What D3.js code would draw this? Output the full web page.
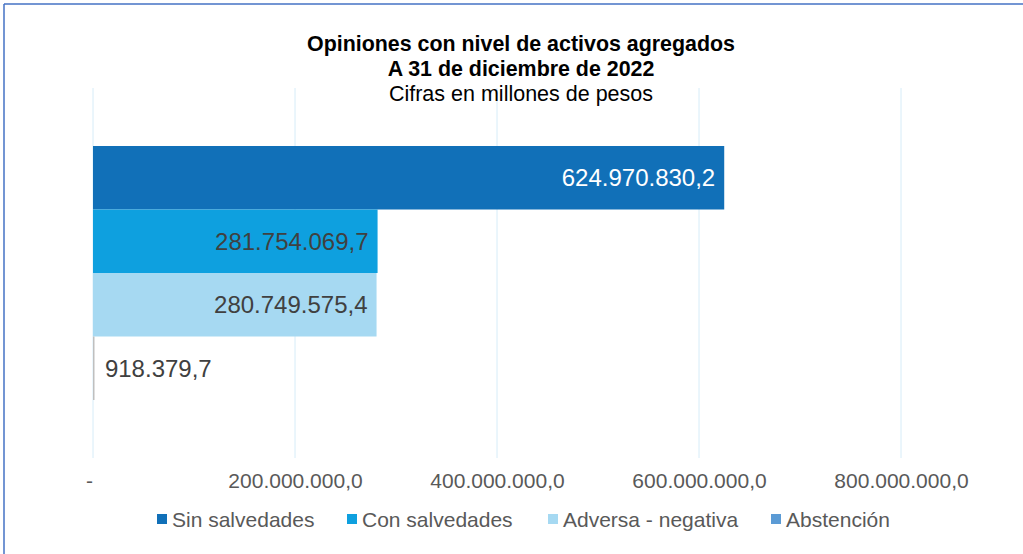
<!DOCTYPE html>
<html>
<head>
<meta charset="utf-8">
<script src="https://cdn.jsdelivr.net/npm/d3@7"></script>
<style>
body { margin: 0; background: #fff; }
svg { font-family: "Liberation Sans", Arial, sans-serif; }
</style>
</head>
<body>
<svg width="1023" height="554"></svg>
<script>
var series = ["Sin salvedades", "Con salvedades", "Adversa - negativa", "Abstención"];
var values = [624970830.2, 281754069.7, 280749575.4, 918379.7];
var labels = ["624.970.830,2", "281.754.069,7", "280.749.575,4", "918.379,7"];
var colors = ["#1170b8", "#0ea0df", "#a6d9f2", "#5b9bd5"];
var tickValues = [0, 200000000, 400000000, 600000000, 800000000];
var tickLabels = ["-", "200.000.000,0", "400.000.000,0", "600.000.000,0", "800.000.000,0"];

var svg = d3.select("svg");

// frame
svg.append("line").attr("x1", 4).attr("y1", 4).attr("x2", 1023).attr("y2", 4)
	.attr("stroke", "#4472c4").attr("stroke-width", 1.5);
svg.append("line").attr("x1", 4).attr("y1", 4).attr("x2", 4).attr("y2", 554)
	.attr("stroke", "#4472c4").attr("stroke-width", 1.5);

var x = d3.scaleLinear().domain([0, 800000000]).range([93, 901]);
var y = d3.scaleBand().domain(series).range([146, 400]);

// gridlines
svg.append("g").selectAll("line")
	.data(tickValues)
	.enter().append("line")
		.attr("x1", function(d) { return x(d); })
		.attr("x2", function(d) { return x(d); })
		.attr("y1", 88).attr("y2", 458)
		.attr("stroke", "#d6ecf8").attr("stroke-width", 1);

// bars
svg.append("g").selectAll("rect")
	.data(values)
	.enter().append("rect")
		.attr("x", x(0))
		.attr("y", function(d, i) { return y(series[i]); })
		.attr("width", function(d) { return Math.max(1.5, x(d) - x(0)); })
		.attr("height", y.bandwidth())
		.attr("fill", function(d, i) { return i == 3 ? "#bfbfbf" : colors[i]; });

// data labels
svg.append("g").selectAll("text")
	.data(values)
	.enter().append("text")
		.attr("x", function(d, i) { return i == 3 ? x(d) + 11 : x(d) - 9; })
		.attr("y", function(d, i) { return y(series[i]) + y.bandwidth() / 2; })
		.attr("dy", "0.36em")
		.attr("text-anchor", function(d, i) { return i == 3 ? "start" : "end"; })
		.attr("font-size", 24)
		.attr("fill", function(d, i) { return i == 0 ? "#fff" : "#404040"; })
		.text(function(d, i) { return labels[i]; });

// x axis labels
var axis = d3.axisBottom(x).tickValues(tickValues)
	.tickFormat(function(d, i) { return tickLabels[i]; })
	.tickSize(0).tickPadding(0);
var ax = svg.append("g").attr("transform", "translate(0,480)").call(axis);
ax.select(".domain").remove();
ax.selectAll("text").attr("font-size", 21).attr("fill", "#595959")
	.attr("font-family", "'Liberation Sans', Arial, sans-serif")
	.attr("dy", "0.36em");
ax.selectAll(".tick").filter(function(d) { return d == 0; }).select("text").attr("dx", -4);

// title
svg.append("text").attr("x", 521).attr("y", 51).attr("text-anchor", "middle")
	.attr("font-size", 21.4).attr("font-weight", "bold").attr("fill", "#000")
	.text("Opiniones con nivel de activos agregados");
svg.append("text").attr("x", 521).attr("y", 75.5).attr("text-anchor", "middle")
	.attr("font-size", 21.4).attr("font-weight", "bold").attr("fill", "#000")
	.text("A 31 de diciembre de 2022");
svg.append("text").attr("x", 521).attr("y", 100.5).attr("text-anchor", "middle")
	.attr("font-size", 21.5).attr("fill", "#000")
	.text("Cifras en millones de pesos");

// legend
var legendX = [157, 347, 548, 771];
var legend = svg.append("g").selectAll("g")
	.data(series)
	.enter().append("g")
		.attr("transform", function(d, i) { return "translate(" + legendX[i] + ",519)"; });
legend.append("rect").attr("x", 0).attr("y", -5).attr("width", 10).attr("height", 10)
	.attr("fill", function(d, i) { return colors[i]; });
legend.append("text").attr("x", 15).attr("y", 0).attr("dy", "0.36em")
	.attr("font-size", 21).attr("fill", "#595959")
	.text(function(d) { return d; });
</script>
</body>
</html>
